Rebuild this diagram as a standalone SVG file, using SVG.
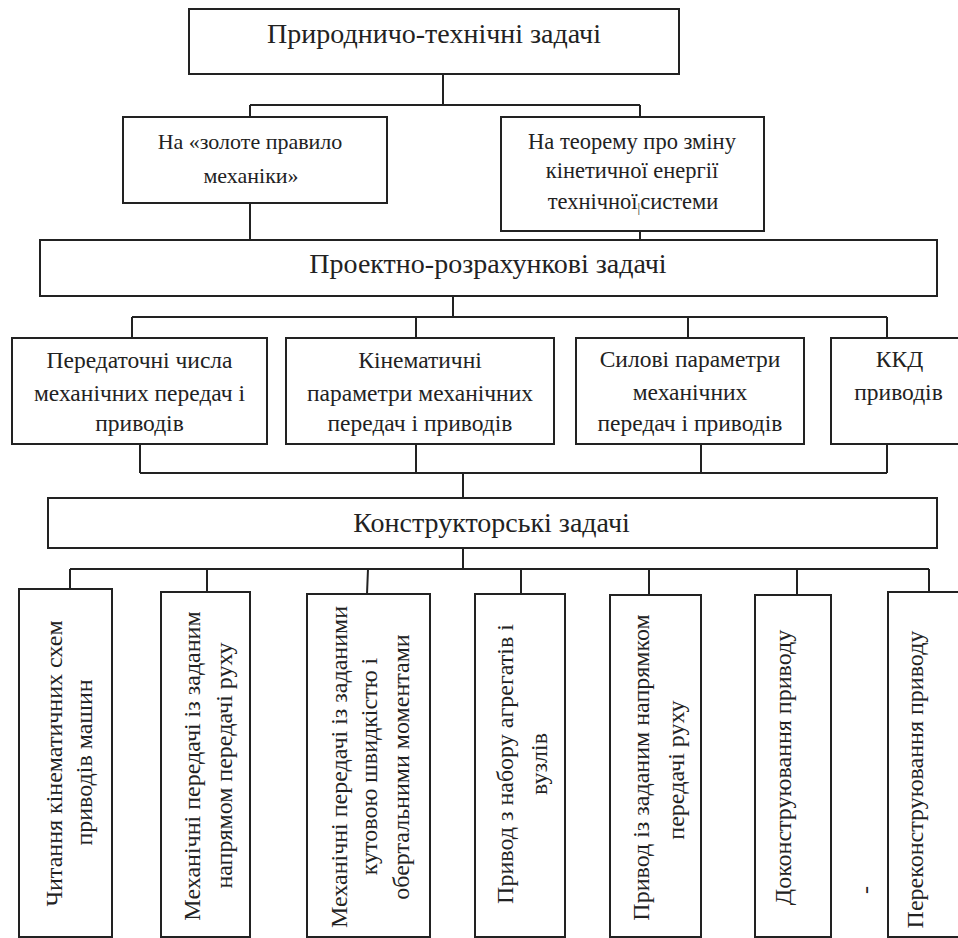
<svg xmlns="http://www.w3.org/2000/svg" width="958" height="938" viewBox="0 0 958 938">
<style>
.box{fill:#fff;stroke:#222;stroke-width:2}
.con{fill:none;stroke:#222;stroke-width:2}
text{font-family:"Liberation Serif","Times New Roman",serif;fill:#222;text-anchor:middle}
.t1{font-size:28px}
.t2{font-size:22px}
.t2b{font-size:22.5px}
.t3{font-size:23.5px}
.t4{font-size:24px}
</style>
<rect width="958" height="938" fill="#fff"/>
<g id="connectors">
<path class="con" d="M443,74V105M250,105H640M250,105V117M640,105V117"/>
<path class="con" d="M250,203V240M640,231V240"/>
<path class="con" d="M453,296V317M132,317H887M132,317V338M416,317V338M688,317V338M887,317V338"/>
<path class="con" d="M140,444V473M416,444V473M701,444V473M887,444V473M140,473H887"/>
<path class="con" d="M463,473V498"/>
<path class="con" d="M463,548V569M70,569H929M70,569V589M207,569V592M368,569L367,594M521,569V594M649,569V595M797,569V595M929,569V592"/>
</g>
<g id="n-top">
<rect class="box" x="189" y="9" width="490" height="65"/>
<text class="t1" x="434" y="43">Природничо-технічні задачі</text>
</g>
<g id="n-golden">
<rect class="box" x="123" y="117" width="264" height="86"/>
<text class="t2" x="250" y="149">На «золоте правило</text>
<text class="t2" x="251" y="183">механіки»</text>
</g>
<g id="n-theorem">
<rect class="box" x="501" y="117" width="263" height="114"/>
<text class="t2b" x="632" y="149">На теорему про зміну</text>
<text class="t2b" x="632" y="178">кінетичної енергії</text>
<text class="t2b" x="633" y="209">технічної<tspan font-size="13" dy="3">|</tspan><tspan dy="-3">системи</tspan></text>
</g>
<g id="n-project">
<rect class="box" x="40" y="240" width="897" height="56"/>
<text class="t1" x="488" y="273">Проектно-розрахункові задачі</text>
</g>
<g id="n-ratio">
<rect class="box" x="12" y="338" width="255" height="106"/>
<text class="t3" x="139.5" y="368">Передаточні числа</text>
<text class="t3" x="139.5" y="401">механічних передач і</text>
<text class="t3" x="139.5" y="431">приводів</text>
</g>
<g id="n-kinematic">
<rect class="box" x="286" y="338" width="268" height="106"/>
<text class="t3" x="420" y="368">Кінематичні</text>
<text class="t3" x="420" y="401">параметри механічних</text>
<text class="t3" x="420" y="431">передач і приводів</text>
</g>
<g id="n-force">
<rect class="box" x="576" y="338" width="228" height="106"/>
<text class="t3" x="690" y="367">Силові параметри</text>
<text class="t3" x="690" y="400">механічних</text>
<text class="t3" x="690" y="431">передач і приводів</text>
</g>
<g id="n-kkd">
<rect class="box" x="831" y="338" width="144" height="106"/>
<text class="t3" x="899.5" y="367">ККД</text>
<text class="t3" x="898.5" y="400">приводів</text>
</g>
<g id="n-design">
<rect class="box" x="48" y="498" width="889" height="50"/>
<text class="t1" x="491.5" y="532">Конструкторські задачі</text>
</g>
<g id="n-b1">
<rect class="box" x="19" y="589" width="93" height="348"/>
<text class="t4" transform="translate(62,763.5) rotate(-90)">Читання кінематичних схем</text>
<text class="t4" transform="translate(92,762.5) rotate(-90)">приводів машин</text>
</g>
<g id="n-b2">
<rect class="box" x="161" y="592" width="89" height="345"/>
<text class="t4" transform="translate(200,766) rotate(-90)">Механічні передачі із заданим</text>
<text class="t4" transform="translate(232,765.5) rotate(-90)">напрямом передачі руху</text>
</g>
<g id="n-b3">
<rect class="box" x="307" y="594" width="123" height="343"/>
<text class="t4" transform="translate(347,767) rotate(-90)">Механічні передачі із заданими</text>
<text class="t4" transform="translate(377,766.5) rotate(-90)">кутовою швидкістю і</text>
<text class="t4" transform="translate(409,767) rotate(-90)">обертальними моментами</text>
</g>
<g id="n-b4">
<rect class="box" x="475" y="594" width="90" height="343"/>
<text class="t4" transform="translate(513,764) rotate(-90)">Привод з набору агрегатів і</text>
<text class="t4" transform="translate(547,764) rotate(-90)">вузлів</text>
</g>
<g id="n-b5">
<rect class="box" x="610" y="595" width="91" height="342"/>
<text class="t4" transform="translate(649,767.5) rotate(-90)">Привод із заданим напрямком</text>
<text class="t4" transform="translate(684,770) rotate(-90)">передачі руху</text>
</g>
<g id="n-b6">
<rect class="box" x="755" y="595" width="76" height="342"/>
<text class="t4" transform="translate(791,767.5) rotate(-90)">Доконструювання приводу</text>
</g>
<g id="n-dash">
<text class="t4" transform="translate(873,890) rotate(-90)">-</text>
</g>
<g id="n-b7">
<rect class="box" x="888" y="592" width="87" height="345"/>
<text class="t4" transform="translate(923,779.5) rotate(-90)">Переконструювання приводу</text>
</g>
</svg>
